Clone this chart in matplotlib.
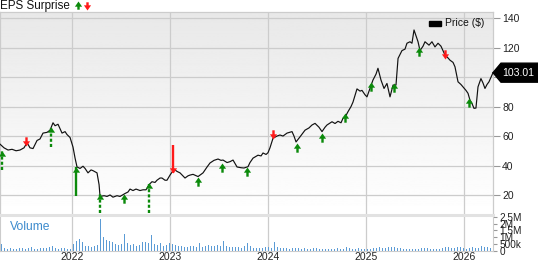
import numpy as np
import matplotlib
matplotlib.use("Agg")
import matplotlib.pyplot as plt
from matplotlib.path import Path
from matplotlib.patches import Polygon, Rectangle

plt.rcParams['font.family'] = ['Liberation Sans', 'DejaVu Sans']

# price series (decimal year, $)
price_t = [2021.265, 2021.306, 2021.347, 2021.388, 2021.429, 2021.469, 2021.510, 2021.541,
           2021.571, 2021.602, 2021.643, 2021.673, 2021.704, 2021.745, 2021.776, 2021.806,
           2021.827, 2021.857, 2021.898, 2021.929, 2021.949, 2021.980, 2022.010, 2022.031,
           2022.051, 2022.082, 2022.112, 2022.133, 2022.163, 2022.194, 2022.214, 2022.255,
           2022.276, 2022.286, 2022.327, 2022.357, 2022.388, 2022.418, 2022.459, 2022.490,
           2022.541, 2022.571, 2022.592, 2022.622, 2022.653, 2022.694, 2022.724, 2022.755,
           2022.786, 2022.816, 2022.847, 2022.867, 2022.898, 2022.918, 2022.949, 2022.969,
           2023.000, 2023.041, 2023.071, 2023.102, 2023.153, 2023.184, 2023.204, 2023.235,
           2023.286, 2023.316, 2023.337, 2023.378, 2023.408, 2023.449, 2023.490, 2023.520,
           2023.541, 2023.582, 2023.612, 2023.643, 2023.684, 2023.724, 2023.755, 2023.796,
           2023.816, 2023.847, 2023.898, 2023.929, 2023.949, 2023.980, 2024.000, 2024.020,
           2024.051, 2024.092, 2024.122, 2024.153, 2024.194, 2024.245, 2024.265, 2024.286,
           2024.327, 2024.378, 2024.418, 2024.449, 2024.480, 2024.520, 2024.551, 2024.582,
           2024.602, 2024.653, 2024.684, 2024.714, 2024.745, 2024.765, 2024.796, 2024.816,
           2024.847, 2024.867, 2024.908, 2024.939, 2024.959, 2024.990, 2025.010, 2025.041,
           2025.071, 2025.102, 2025.122, 2025.153, 2025.184, 2025.214, 2025.245, 2025.276,
           2025.306, 2025.327, 2025.367, 2025.398, 2025.418, 2025.449, 2025.469, 2025.490,
           2025.510, 2025.531, 2025.551, 2025.582, 2025.602, 2025.643, 2025.673, 2025.704,
           2025.735, 2025.765, 2025.786, 2025.806, 2025.837, 2025.857, 2025.888, 2025.908,
           2025.939, 2025.969, 2025.990, 2026.020, 2026.041, 2026.061, 2026.082, 2026.102,
           2026.122, 2026.143, 2026.173, 2026.194, 2026.214, 2026.235, 2026.255, 2026.276,
           2026.296]
price = [54.5, 52, 50.5, 51, 50, 50.5, 52, 55.5,
         52, 51.5, 57, 58, 62, 62.5, 64, 69,
         67, 68, 62, 63, 61, 59, 52.5, 45,
         39, 38, 39.5, 38, 35, 37, 36.5, 35,
         27, 19, 19.5, 19, 20, 18.5, 19.5, 19,
         21, 22, 24, 23, 24, 23, 23.5, 23.5,
         27, 29, 28.5, 30, 31.5, 31.5, 30, 30,
         33.5, 37.5, 36, 35, 31.5, 33, 33.5, 34,
         32.5, 34, 35, 39, 41.7, 43.5, 44.4, 43.5,
         43.7, 42, 42.6, 43.7, 39, 38.5, 38.3, 39.2,
         42, 45, 47, 46.5, 48.5, 47.5, 48.7, 52,
         58.5, 60, 60.7, 60, 62, 63, 60, 56,
         59.5, 64, 65.5, 67.5, 68.6, 66, 63, 66,
         67.5, 69.7, 68.5, 70, 69, 72, 74, 76.5,
         80, 83, 92, 90.5, 91, 88, 86.6, 92.3,
         98, 102, 106, 98, 92.3, 95.7, 86.6, 94.6,
         94.6, 112.7, 118, 119, 123, 124, 123, 132,
         128, 124, 118, 121, 124, 121.7, 124, 120.5,
         123, 121, 118, 115, 113, 111.5, 110, 107,
         96.8, 95, 93.4, 91, 89, 84.4, 82, 78.8,
         79, 93.4, 99, 96, 92.3, 95, 96.8, 100,
         103.01]

# EPS surprise arrows: date, tip price, beat?, tail price (None = small arrow), dashed tail
eps_t = [2021.286, 2021.531, 2021.786, 2022.041, 2022.286, 2022.531, 2022.786, 2023.031,
         2023.286, 2023.531, 2023.786, 2024.051, 2024.296, 2024.551, 2024.786, 2025.051,
         2025.286, 2025.541, 2025.806, 2026.051]
eps_tip = [50.0, 53.4, 65.9, 39.2, 20.7, 20.7, 28.3, 35.1,
           32.4, 41.5, 39.2, 57.8, 55.0, 62.2, 75.4, 96.8,
           96.1, 120.5, 112.0, 85.6]
eps_beat = [True, False, True, True, True, True, True, False,
            True, True, True, False, True, True, True, True,
            True, True, False, True]
eps_tail = [37, None, 52.7, 19.3, 7.8, None, 7.8, 53.9,
            None, None, None, None, None, None, None, None,
            None, None, None, None]
eps_dashed = [True, False, True, False, True, False, True, False,
              False, False, False, False, False, False, False, False,
              False, False, False, False]

# volume, thousands of shares, one bar every ~11 days from the start
volume_k = [480, 220, 180, 200, 160, 170, 210, 190, 160, 230, 300, 180, 170, 200, 220, 190,
            260, 330, 210, 180, 240, 200, 170, 160,
            520, 750, 900, 620, 380, 330, 300, 350, 420,
            2330, 1050, 800, 720, 620, 520, 450, 480, 1260,
            600, 420, 500, 380, 450, 640, 660, 590, 1200,
            520, 430, 560, 380,
            450, 580, 520, 430, 400, 380, 320, 300, 350, 330, 290, 560,
            300, 380, 420, 400, 360, 450, 380, 740,
            350, 320, 280, 260, 300, 250, 380, 560,
            360, 250, 220, 200, 240, 260, 280, 200, 620,
            260, 220, 190, 210, 180, 200, 250, 220, 180,
            200, 170, 160, 190, 220, 180, 160, 150,
            160, 150, 170, 200, 180, 160, 320, 200, 180, 170, 190, 160, 150, 170, 180, 190,
            210, 300, 190, 240, 270, 260,
            280, 250, 200, 180, 170, 160, 150, 170, 180, 240, 220, 190, 170, 160, 150, 170,
            200, 300, 260, 230, 200, 260, 280, 200, 180, 230, 300, 250, 240, 380, 290, 260, 230]
vol_start = 2021.28
vol_step = 3 / 98.0

years = [2022, 2023, 2024, 2025, 2026]
price_ticks = [20, 40, 60, 80, 100, 120, 140]
price_labels = ['20', '40', '60', '80', '', '120', '140']  # 100 sits under the price tag
vol_ticks = [0, 500e3, 1e6, 1.5e6, 2e6, 2.5e6]
vol_labels = ['0', '500k', '1M', '1.5M', '2M', '2.5M']
last_price = 103.01

W, H = 538, 262
fig = plt.figure(figsize=(W / 100, H / 100), dpi=100)
grid_c = '#cccccc'
green = '#0b8a0b'
red = '#ff1a1a'
xmin, xmax = 2021.265, 2026.296

ax = fig.add_axes([0, 1 - 215 / H, 493 / W, 203 / H])
axv = fig.add_axes([0, 1 - 251 / H, 493 / W, 36 / H])

# price panel
grad = np.linspace(0.91, 1.0, 256).reshape(-1, 1)
ax.imshow(grad, cmap='gray', vmin=0, vmax=1, aspect='auto', extent=[0, 1, 0, 1],
          transform=ax.transAxes, zorder=0)
ax.set_xlim(xmin, xmax)
ax.set_ylim(6.4, 144.2)
ax.set_yticks(price_ticks)
ax.set_yticklabels(price_labels)
ax.set_xticks(years)
ax.grid(True, color=grid_c, lw=0.9, zorder=1)
ax.yaxis.tick_right()
ax.tick_params(axis='y', length=5, width=0.8, color='#999999', labelsize=7.5, pad=1.5,
               labelcolor='#222222')
ax.tick_params(axis='x', length=0, labelbottom=False)
for s in ['left', 'top', 'right']:
    ax.spines[s].set_color(grid_c)
    ax.spines[s].set_linewidth(0.9)
ax.spines['bottom'].set_visible(False)
ax.plot(price_t, price, color='#111111', lw=0.85, zorder=3)


def arrow_marker(up, stem):
    v = [(0, 0), (3.6, -5.2), (1.2, -5.2), (1.2, -5.2 - stem), (-1.2, -5.2 - stem),
         (-1.2, -5.2), (-3.6, -5.2), (0, 0)]
    if not up:
        v = [(a, -b) for a, b in v]
    return Path(v, closed=True), 1.44 * (5.2 + stem)


for t, tip, beat, tail, dashed in zip(eps_t, eps_tip, eps_beat, eps_tail, eps_dashed):
    c = green if beat else red
    if tail is None:
        m, ms = arrow_marker(beat, 4)
    else:
        ax.plot([t, t], [tail, tip], color=c, lw=1.7, zorder=4,
                linestyle=(0, (1.3, 0.9)) if dashed else '-', solid_capstyle='butt')
        m, ms = arrow_marker(beat, 0)
    ax.plot([t], [tip], marker=m, ms=ms, color=c, mec='none', zorder=5, clip_on=False)

# volume panel
vol_t = [vol_start + vol_step * i for i in range(len(volume_k))]
axv.bar(vol_t, [v * 1000 for v in volume_k], width=vol_step * 0.55, color='#5b9bd5',
        edgecolor='none', zorder=2)
axv.set_xlim(xmin, xmax)
axv.set_ylim(0, 2.62e6)
axv.set_xticks(years)
axv.set_xticklabels([str(y) for y in years])
axv.grid(True, axis='x', color=grid_c, lw=0.9, zorder=1)
axv.set_yticks(vol_ticks)
axv.set_yticklabels(vol_labels)
axv.yaxis.tick_right()
axv.tick_params(axis='y', length=3, width=0.8, color='#999999', labelsize=7.2, pad=1.5,
                labelcolor='#222222')
axv.tick_params(axis='x', length=0, labelsize=7.5, pad=0.5, labelcolor='#222222')
axv.spines['top'].set_color('#e2e2e2')
axv.spines['top'].set_linewidth(2.2)
for s in ['left', 'right', 'bottom']:
    axv.spines[s].set_color(grid_c)
    axv.spines[s].set_linewidth(0.8)

# overlay in pixel coordinates for the decorations
ov = fig.add_axes([0, 0, 1, 1], zorder=10)
ov.set_xlim(0, W)
ov.set_ylim(H, 0)
ov.axis('off')
ov.patch.set_alpha(0)

ov.text(0, 5.5, 'EPS Surprise', fontsize=8.4, va='center', ha='left', color='#111111')
mg, msg = arrow_marker(True, 3)
mr, msr = arrow_marker(False, 3)
ov.plot([77.5], [1], marker=mg, ms=msg, color=green, mec='none', clip_on=False)
ov.plot([87], [9.5], marker=mr, ms=msr, color=red, mec='none', clip_on=False)

ov.add_patch(Rectangle((429, 21), 12, 4.5, color='black'))
ov.text(445, 23.5, 'Price ($)', fontsize=7.5, va='center', ha='left', color='#111111')

ov.text(10, 227.5, 'Volume', fontsize=8.7, va='center', ha='left', color='#3d8bcd')

# last price tag
y0 = H - ax.transData.transform((xmax, last_price))[1]
ov.add_patch(Polygon([(493, y0), (501, y0 - 9.5), (538, y0 - 9.5), (538, y0 + 9.5),
                      (501, y0 + 9.5)], closed=True, color='black', clip_on=False))
ov.text(518, y0, f'{last_price:.2f}', fontsize=7.6, color='white', va='center', ha='center')

fig.savefig('out.png', dpi=100)
